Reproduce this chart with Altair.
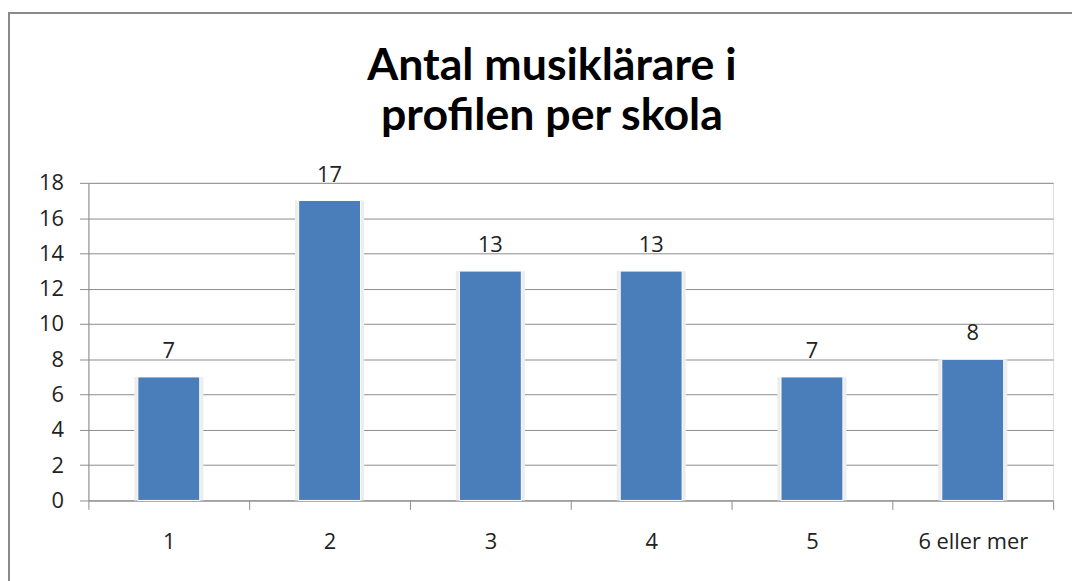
import altair as alt
import pandas as pd

categories = ["1", "2", "3", "4", "5", "6 eller mer"]
values = [7, 17, 13, 13, 7, 8]
y_ticks = [0, 2, 4, 6, 8, 10, 12, 14, 16, 18]
title_lines = ["Antal musiklärare i", "profilen per skola"]

df = pd.DataFrame({"kategori": categories, "antal": values})
frame_df = pd.DataFrame({"f": [0]})

FONT = "Open Sans"
BAR = "#4A7EBB"
FS = 22

x_enc = alt.X(
    "kategori:N",
    sort=categories,
    scale=alt.Scale(paddingInner=0, paddingOuter=0),
    axis=alt.Axis(
        title=None,
        labelAngle=0,
        tickBand="extent",
        ticks=True,
        tickSize=9,
        tickColor="#8c8c8c",
        domainColor="#8c8c8c",
        labelFontSize=FS,
        labelFont=FONT,
        labelColor="#222222",
        labelPadding=22,
        grid=False,
    ),
)
y_enc = alt.Y(
    "antal:Q",
    scale=alt.Scale(domain=[0, 18], nice=False),
    axis=alt.Axis(
        title=None,
        values=y_ticks,
        tickSize=9,
        tickColor="#8c8c8c",
        domainColor="#8c8c8c",
        gridColor="#8c8c8c",
        gridWidth=1,
        labelFontSize=FS,
        labelFont=FONT,
        labelColor="#222222",
        labelPadding=16,
    ),
)

shadow = alt.Chart(df).mark_bar(
    width=alt.RelativeBandSize(0.43), color="#ededed"
).encode(x=x_enc, y=y_enc)

bars = alt.Chart(df).mark_bar(
    width=alt.RelativeBandSize(0.385), color=BAR, stroke="white", strokeWidth=1
).encode(x=x_enc, y=y_enc)

labels = alt.Chart(df).mark_text(
    baseline="bottom", dy=-14, fontSize=FS, font=FONT, color="#222222"
).encode(x=x_enc, y=y_enc, text="antal:Q")

frame_left = alt.Chart(frame_df).mark_rule(color="#8a8a8a", strokeWidth=2).encode(
    x=alt.value(-80), y=alt.value(-171), y2=alt.value(420)
)
frame_top = alt.Chart(frame_df).mark_rule(color="#8a8a8a", strokeWidth=2).encode(
    x=alt.value(-81), x2=alt.value(1000), y=alt.value(-171)
)

chart = (
    alt.layer(shadow, bars, labels, frame_left, frame_top)
    .properties(
        width=972,
        height=320,
        autosize=alt.AutoSizeParams(type="none"),
        padding={"left": 81, "top": 174, "right": 19, "bottom": 79},
        title=alt.TitleParams(
            text=title_lines,
            font="Lato",
            fontSize=45,
            fontWeight="bold",
            color="#000000",
            anchor="middle",
            baseline="alphabetic",
            lineHeight=51,
            dx=-19,
            dy=164,
            offset=0,
        ),
    )
    .configure_view(stroke=None)
    .configure(background="white")
)

chart.save("out.html", embed_options={"renderer": "svg", "actions": False})
